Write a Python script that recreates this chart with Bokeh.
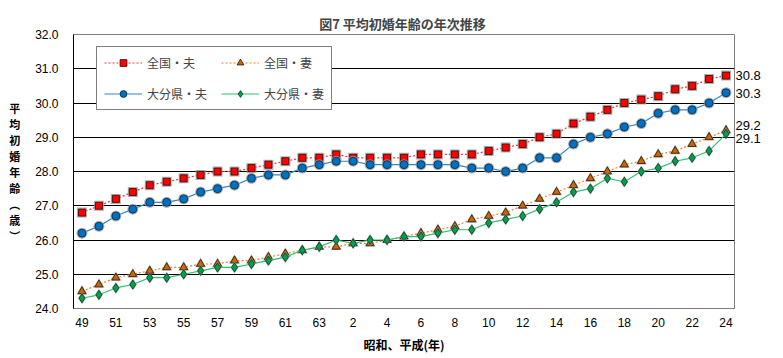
from bokeh.plotting import figure
from bokeh.models import (Legend, LegendItem, FixedTicker, Range1d, LinearAxis)
from bokeh.embed import file_html
from bokeh.resources import INLINE

# ---- data ----
years = [str(v) for v in range(49, 64)] + [str(v) for v in range(1, 25)]
x_idx = list(range(len(years)))

national_h = [26.8, 27.0, 27.2, 27.4, 27.6, 27.7, 27.8, 27.9, 28.0, 28.0,
              28.1, 28.2, 28.3, 28.4, 28.4, 28.5, 28.4, 28.4, 28.4, 28.4,
              28.5, 28.5, 28.5, 28.5, 28.6, 28.7, 28.8, 29.0, 29.1, 29.4,
              29.6, 29.8, 30.0, 30.1, 30.2, 30.4, 30.5, 30.7, 30.8]
national_w = [24.5, 24.7, 24.9, 25.0, 25.1, 25.2, 25.2, 25.3, 25.3, 25.4,
              25.4, 25.5, 25.6, 25.7, 25.8, 25.8, 25.9, 25.9, 26.0, 26.1,
              26.2, 26.3, 26.4, 26.6, 26.7, 26.8, 27.0, 27.2, 27.4, 27.6,
              27.8, 28.0, 28.2, 28.3, 28.5, 28.6, 28.8, 29.0, 29.2]
oita_h = [26.2, 26.4, 26.7, 26.9, 27.1, 27.1, 27.2, 27.4, 27.5, 27.6,
          27.8, 27.9, 27.9, 28.1, 28.2, 28.3, 28.3, 28.2, 28.2, 28.2,
          28.2, 28.2, 28.2, 28.1, 28.1, 28.0, 28.1, 28.4, 28.4, 28.8,
          29.0, 29.1, 29.3, 29.4, 29.7, 29.8, 29.8, 30.0, 30.3]
oita_w = [24.3, 24.4, 24.6, 24.7, 24.9, 24.9, 25.0, 25.1, 25.2, 25.2,
          25.3, 25.4, 25.5, 25.7, 25.8, 26.0, 25.9, 26.0, 26.0, 26.1,
          26.1, 26.2, 26.3, 26.3, 26.5, 26.6, 26.7, 26.9, 27.1, 27.4,
          27.5, 27.8, 27.7, 28.0, 28.1, 28.3, 28.4, 28.6, 29.1]
series_names = ["全国・夫", "全国・妻", "大分県・夫", "大分県・妻"]
y_ticks = [24, 25, 26, 27, 28, 29, 30, 31, 32]
title_text = "図7  平均初婚年齢の年次推移"
x_title = "昭和、平成(年)"
y_title = "平\n均\n初\n婚\n年\n齢\n︵\n歳\n︶"

JP = "Noto Sans CJK JP"
NUM = "'Liberation Sans Narrow', 'Liberation Sans', sans-serif"
Y0, Y1 = 24, 32

p = figure(width=783, height=358, output_backend="svg", toolbar_location=None,
           x_range=Range1d(-0.5, len(years) - 0.5), y_range=Range1d(Y0, Y1),
           min_border_left=73, min_border_right=49, min_border_top=34,
           min_border_bottom=50, title=title_text)
p.background_fill_color = "white"
p.border_fill_color = "white"
p.outline_line_color = "#808080"
p.outline_line_width = 1

p.title.align = "center"
p.title.text_font = JP
p.title.text_font_size = "13px"
p.title.text_font_style = "bold"
p.title.standoff = 4

# axes
p.xaxis.ticker = FixedTicker(ticks=x_idx[::2])
p.xaxis.major_label_overrides = {i: years[i] for i in x_idx}
p.yaxis.ticker = FixedTicker(ticks=y_ticks)
p.yaxis.major_label_overrides = {v: f"{v:.1f}" for v in y_ticks}
for ax in (p.xaxis, p.yaxis):
    ax.major_tick_line_color = None
    ax.minor_tick_line_color = None
    ax.major_label_text_font = NUM
    ax.major_label_text_font_size = "12px"
    ax.major_label_text_color = "black"
    ax.axis_label_text_font = JP
    ax.axis_label_text_font_style = "bold"
    ax.axis_label_text_color = "black"
    ax.axis_label_text_font_size = "12px"
p.xaxis.axis_line_color = "#808080"
p.yaxis.axis_line_color = "black"
p.xaxis.major_label_standoff = 3
p.yaxis.major_label_standoff = 9
p.xaxis.axis_label = x_title
p.xaxis.axis_label_standoff = 6
p.yaxis.axis_label = y_title
p.yaxis.axis_label_text_font_size = "11px"
p.yaxis.axis_label_text_line_height = 1.0
p.yaxis.axis_label_standoff = 12
try:
    p.yaxis.axis_label_orientation = "horizontal"
except Exception:
    pass
p.xgrid.grid_line_color = None
p.ygrid.grid_line_color = "black"
p.ygrid.grid_line_width = 1

specs = [
    (national_h, "#FF3030", "2 2", "square", "#FF0000", "#3a0000", 7),
    (national_w, "#F08030", "2 2", "triangle", "#CC6600", "#2a1500", 8),
    (oita_h, "#2E86C8", "solid", "circle", "#0070C0", "#002a4a", 8),
    (oita_w, "#30C070", "solid", "diamond", "#00A050", "#003a1a", 9),
]
items = {}
for (vals, lc, dash, mk, fc, oc, sz), name in zip(specs, series_names):
    lr = p.line(x_idx, vals, line_color=lc, line_width=1.2, line_dash=dash)
    p.scatter(x_idx, vals, marker=mk, size=sz + 3, fill_color="#9a9a9a",
              line_color=None, fill_alpha=0.8)
    sr = p.scatter(x_idx, vals, marker=mk, size=sz, fill_color=fc,
                   line_color=oc, line_width=0.8)
    items[name] = LegendItem(label=name, renderers=[lr, sr])

# column-major fill: column 1 = 全国・夫, 大分県・夫 ; column 2 = 全国・妻, 大分県・妻
legend_order = [series_names[0], series_names[2], series_names[1], series_names[3]]
legend = Legend(items=[items[n] for n in legend_order], ncols=2,
                location=(23, 198),
                glyph_width=38, glyph_height=17, label_height=17,
                label_width=60, label_standoff=5, spacing=14, padding=7,
                margin=0, border_line_color="black", border_line_width=1,
                background_fill_color="white", background_fill_alpha=1,
                label_text_font=JP, label_text_font_size="12px")
p.add_layout(legend, "center")

# end-value labels on a right axis (range in hundredths; small pixel nudges
# keep the close 29.2 / 29.1 labels apart)
px_per_unit = 274 / (Y1 - Y0)
p.extra_y_ranges = {"end": Range1d(Y0 * 100, Y1 * 100)}
end_vals = [national_h[-1], oita_h[-1], national_w[-1], oita_w[-1]]
nudge_px = [0, -1, 4.5, -4.5]
end_pos = [int(round(v * 100 + d / px_per_unit * 100)) for v, d in zip(end_vals, nudge_px)]
raxis = LinearAxis(y_range_name="end", ticker=FixedTicker(ticks=end_pos),
                   major_label_overrides={pos: f"{v:.1f}" for pos, v in zip(end_pos, end_vals)},
                   axis_line_color=None, major_tick_line_color=None,
                   minor_tick_line_color=None, major_label_standoff=-5,
                   major_label_text_font=NUM, major_label_text_font_size="13px",
                   major_label_text_color="black")
p.add_layout(raxis, "right")

open("out.html", "w").write(file_html(p, INLINE))
